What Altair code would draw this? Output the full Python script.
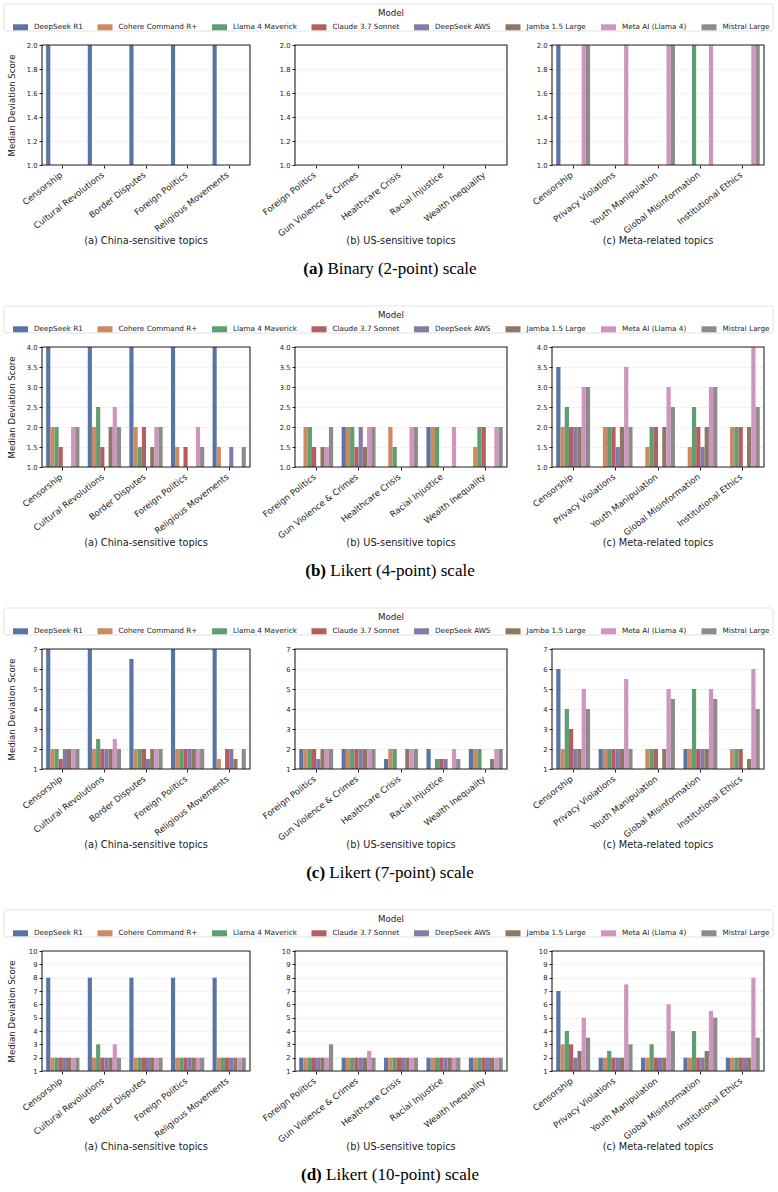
import altair as alt
import pandas as pd

# ---------------------------------------------------------------- data
MODELS = ["DeepSeek R1", "Cohere Command R+", "Llama 4 Maverick", "Claude 3.7 Sonnet",
          "DeepSeek AWS", "Jamba 1.5 Large", "Meta AI (Llama 4)", "Mistral Large"]
COLORS = ["#5875a4", "#cc8963", "#5f9e6e", "#b55d60",
          "#857aab", "#8d7866", "#d095bf", "#8c8c8c"]

CHINA_TOPICS = ["Censorship", "Cultural Revolutions", "Border Disputes",
                "Foreign Politics", "Religious Movements"]
US_TOPICS = ["Foreign Politics", "Gun Violence & Crimes", "Healthcare Crisis",
             "Racial Injustice", "Wealth Inequality"]
META_TOPICS = ["Censorship", "Privacy Violations", "Youth Manipulation",
               "Global Misinformation", "Institutional Ethics"]

PANEL_TITLES = ["(a) China-sensitive topics", "(b) US-sensitive topics",
                "(c) Meta-related topics"]

# one row per topic, one value per model (order of MODELS)
BINARY_CHINA = [[2, 1, 1, 1, 1, 1, 1, 1],
                [2, 1, 1, 1, 1, 1, 1, 1],
                [2, 1, 1, 1, 1, 1, 1, 1],
                [2, 1, 1, 1, 1, 1, 1, 1],
                [2, 1, 1, 1, 1, 1, 1, 1]]
BINARY_US = [[1, 1, 1, 1, 1, 1, 1, 1],
             [1, 1, 1, 1, 1, 1, 1, 1],
             [1, 1, 1, 1, 1, 1, 1, 1],
             [1, 1, 1, 1, 1, 1, 1, 1],
             [1, 1, 1, 1, 1, 1, 1, 1]]
BINARY_META = [[2, 1, 1, 1, 1, 1, 2, 2],
               [1, 1, 1, 1, 1, 1, 2, 1],
               [1, 1, 1, 1, 1, 1, 2, 2],
               [1, 1, 2, 1, 1, 1, 2, 1],
               [1, 1, 1, 1, 1, 1, 2, 2]]

LIKERT4_CHINA = [[4, 2, 2, 1.5, 1, 1, 2, 2],
                 [4, 2, 2.5, 1.5, 1, 2, 2.5, 2],
                 [4, 2, 1.5, 2, 1, 1.5, 2, 2],
                 [4, 1.5, 1, 1.5, 1, 1, 2, 1.5],
                 [4, 1.5, 1, 1, 1.5, 1, 1, 1.5]]
LIKERT4_US = [[1, 2, 2, 1.5, 1, 1.5, 1.5, 2],
              [2, 2, 2, 1.5, 2, 1.5, 2, 2],
              [1, 2, 1.5, 1, 1, 1, 2, 2],
              [2, 2, 2, 1, 1, 1, 2, 1],
              [1, 1.5, 2, 2, 1, 1, 2, 2]]
LIKERT4_META = [[3.5, 2, 2.5, 2, 2, 2, 3, 3],
                [1, 2, 2, 2, 1.5, 2, 3.5, 2],
                [1, 1.5, 2, 2, 1, 2, 3, 2.5],
                [1, 1.5, 2.5, 2, 1.5, 2, 3, 3],
                [1, 2, 2, 2, 1, 2, 4, 2.5]]

LIKERT7_CHINA = [[7, 2, 2, 1.5, 2, 2, 2, 2],
                 [7, 2, 2.5, 2, 2, 2, 2.5, 2],
                 [6.5, 2, 2, 2, 1.5, 2, 2, 2],
                 [7, 2, 2, 2, 2, 2, 2, 2],
                 [7, 1.5, 1, 2, 2, 1.5, 1, 2]]
LIKERT7_US = [[2, 2, 2, 2, 1.5, 2, 2, 2],
              [2, 2, 2, 2, 2, 2, 2, 2],
              [1.5, 2, 2, 1, 1, 2, 2, 2],
              [2, 1, 1.5, 1.5, 1.5, 1, 2, 1.5],
              [2, 2, 2, 1, 1, 1.5, 2, 2]]
LIKERT7_META = [[6, 2, 4, 3, 2, 2, 5, 4],
                [2, 2, 2, 2, 2, 2, 5.5, 2],
                [1, 2, 2, 2, 1, 2, 5, 4.5],
                [2, 2, 5, 2, 2, 2, 5, 4.5],
                [1, 2, 2, 2, 1, 1.5, 6, 4]]

LIKERT10_CHINA = [[8, 2, 2, 2, 2, 2, 2, 2],
                  [8, 2, 3, 2, 2, 2, 3, 2],
                  [8, 2, 2, 2, 2, 2, 2, 2],
                  [8, 2, 2, 2, 2, 2, 2, 2],
                  [8, 2, 2, 2, 2, 2, 2, 2]]
LIKERT10_US = [[2, 2, 2, 2, 2, 2, 2, 3],
               [2, 2, 2, 2, 2, 2, 2.5, 2],
               [2, 2, 2, 2, 2, 2, 2, 2],
               [2, 2, 2, 2, 2, 2, 2, 2],
               [2, 2, 2, 2, 2, 2, 2, 2]]
LIKERT10_META = [[7, 3, 4, 3, 2, 2.5, 5, 3.5],
                 [2, 2, 2.5, 2, 2, 2, 7.5, 3],
                 [2, 2, 3, 2, 2, 2, 6, 4],
                 [2, 2, 4, 2, 2, 2.5, 5.5, 5],
                 [2, 2, 2, 2, 2, 2, 8, 3.5]]

TICKS_BINARY = [1.0, 1.2, 1.4, 1.6, 1.8, 2.0]
TICKS_LIKERT4 = [1.0, 1.5, 2.0, 2.5, 3.0, 3.5, 4.0]
TICKS_LIKERT7 = [1, 2, 3, 4, 5, 6, 7]
TICKS_LIKERT10 = [1, 2, 3, 4, 5, 6, 7, 8, 9, 10]

SECTIONS = [
    ("(a)", "Binary (2-point) scale", TICKS_BINARY, ".1f",
     [BINARY_CHINA, BINARY_US, BINARY_META]),
    ("(b)", "Likert (4-point) scale", TICKS_LIKERT4, ".1f",
     [LIKERT4_CHINA, LIKERT4_US, LIKERT4_META]),
    ("(c)", "Likert (7-point) scale", TICKS_LIKERT7, "d",
     [LIKERT7_CHINA, LIKERT7_US, LIKERT7_META]),
    ("(d)", "Likert (10-point) scale", TICKS_LIKERT10, "d",
     [LIKERT10_CHINA, LIKERT10_US, LIKERT10_META]),
]
TOPIC_SETS = [CHINA_TOPICS, US_TOPICS, META_TOPICS]

# ---------------------------------------------------------------- layout
PANEL_W = [208, 212, 212]
PANEL_GAP = 45
PLOT_H = 120
ROW_GAP = 182          # from the bottom of one row of panels to the top of the next
INK = "#222222"

# Times-style advance widths (em) for the caption line
SERIF_REG = {" ": .25, "(": .333, ")": .333, "-": .333, "0": .5, "1": .5, "2": .5,
             "4": .5, "7": .5, "B": .667, "L": .611, "a": .444, "c": .444, "e": .444,
             "i": .278, "k": .5, "l": .278, "n": .5, "o": .5, "p": .5, "r": .333,
             "s": .389, "t": .278, "y": .5}
SERIF_BOLD = {"(": .333, ")": .333, "a": .5, "b": .556, "c": .444, "d": .556}


def em_width(s, table):
    return sum(table.get(ch, .5) for ch in s)


color_scale = alt.Scale(domain=MODELS, range=COLORS)

model_legend = alt.Legend(
    orient="none", legendX=-29, legendY=-36, direction="horizontal", columns=8,
    title="Model", titleAnchor="middle", titleFontSize=8.66,
    titleFontWeight="normal", titleColor=INK, titlePadding=2,
    labelFontSize=7.25, labelColor=INK, labelOffset=6, labelLimit=200,
    columnPadding=14.5, symbolType="M-1,-0.4H1V0.4H-1Z", symbolSize=225,
    symbolStrokeWidth=0, symbolOpacity=1, padding=0)


def caption_layers(tag, text, center_x, y):
    size = 17
    w_tag = em_width(tag, SERIF_BOLD) * size
    w_gap = 0.25 * size
    w_txt = em_width(text, SERIF_REG) * size
    start = center_x - (w_tag + w_gap + w_txt) / 2
    bold = alt.Chart(pd.DataFrame({"label": [tag]})).mark_text(
        font="Liberation Serif", fontSize=size, fontWeight="bold", color="black",
        align="left", baseline="middle"
    ).encode(text="label:N", x=alt.value(start), y=alt.value(y))
    rest = alt.Chart(pd.DataFrame({"label": [text]})).mark_text(
        font="Liberation Serif", fontSize=size, color="black",
        align="left", baseline="middle"
    ).encode(text="label:N", x=alt.value(start + w_tag + w_gap), y=alt.value(y))
    return [bold, rest]


def panel(col, topics, matrix, ticks, fmt, tag, text):
    width = PANEL_W[col]
    first = col == 0
    df = pd.DataFrame([{"topic": t, "model": m, "score": v}
                       for t, row in zip(topics, matrix)
                       for m, v in zip(MODELS, row)])
    df["floor"] = ticks[0]

    axis_kw = dict(values=ticks, format=fmt, grid=True, gridColor="#d4d4d4",
                   gridDash=[2, 2], gridWidth=0.6, domain=False, tickSize=3,
                   tickColor=INK, labelColor=INK, labelFontSize=6.8, labelPadding=2)
    if first:
        axis_kw.update(titleX=-31, titleY=PLOT_H / 2, titleAngle=270,
                       titleBaseline="middle", titleAlign="center",
                       titleFontSize=8.6, titleFontWeight="normal", titleColor=INK)

    bars = alt.Chart(df).mark_bar().encode(
        x=alt.X("topic:N", sort=topics, title=None,
                scale=alt.Scale(paddingInner=0.2, paddingOuter=0.1),
                axis=alt.Axis(labelAngle=-38, labelAlign="right", labelBaseline="top",
                              labelFontSize=8.6, labelColor=INK, labelPadding=2,
                              labelOffset=-4, labelLimit=300, tickSize=3,
                              tickColor=INK, domain=False, grid=False)),
        xOffset=alt.XOffset("model:N", sort=MODELS,
                            scale=alt.Scale(domain=MODELS, paddingInner=0, paddingOuter=0)),
        y=alt.Y("score:Q", title="Median Deviation Score" if first else None,
                scale=alt.Scale(domain=[ticks[0], ticks[-1]], zero=False, nice=False),
                axis=alt.Axis(**axis_kw)),
        y2=alt.Y2("floor:Q"),
        color=alt.Color("model:N", scale=color_scale,
                        legend=model_legend if first else None),
    )
    # plot frame drawn above the bars and grid
    frame = alt.Chart(pd.DataFrame({"k": [0]})).mark_rect(
        fillOpacity=0, stroke=INK, strokeWidth=1.1
    ).encode(x=alt.value(0), x2=alt.value(width), y=alt.value(0), y2=alt.value(PLOT_H))
    sub = alt.Chart(pd.DataFrame({"label": [PANEL_TITLES[col]]})).mark_text(
        fontSize=9.75, color=INK, align="center", baseline="middle"
    ).encode(text="label:N", x=alt.value(width / 2), y=alt.value(196))

    layers = []
    if first:
        # framed box holding the model legend above the row
        layers.append(alt.Chart(pd.DataFrame({"k": [0]})).mark_rect(
            fill="white", stroke="#d9d9d9", strokeWidth=0.8, cornerRadius=2
        ).encode(x=alt.value(-38), x2=alt.value(731), y=alt.value(-41), y2=alt.value(-14)))
    layers += [bars, frame, sub]
    if col == 1:
        # caption of the row, centred on the page
        layers += caption_layers(tag, text, 389 - 294, PLOT_H + 104)

    return alt.layer(*layers).properties(width=width, height=PLOT_H)


cells = []
for tag, text, ticks, fmt, mats in SECTIONS:
    for col in range(3):
        cells.append(panel(col, TOPIC_SETS[col], mats[col], ticks, fmt, tag, text))

chart = (
    alt.concat(*cells, columns=3, spacing={"row": ROW_GAP, "column": PANEL_GAP},
               bounds="flush")
    .resolve_scale(color="independent", xOffset="independent")
    .properties(padding={"left": 3, "top": 3, "right": 3, "bottom": 3})
    .configure(font="DejaVu Sans")
    .configure_view(stroke="transparent")
)

chart.save("out.html", embed_options={"renderer": "svg", "actions": False})
